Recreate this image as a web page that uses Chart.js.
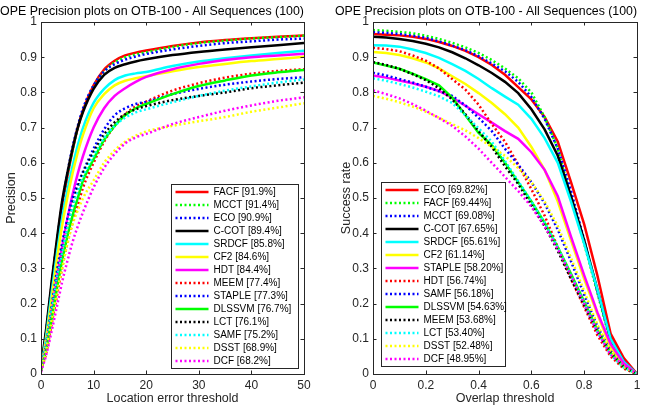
<!DOCTYPE html>
<html>
<head>
<meta charset="utf-8">
<script src="https://cdn.jsdelivr.net/npm/chart.js@4.4.1/dist/chart.umd.min.js"></script>
<style>
    html, body { margin: 0; padding: 0; background: #fff; overflow: hidden; width: 657px; height: 410px; }
    canvas { position: absolute; top: 0; }
    #precisionChart { left: 0; }
    #successChart { left: 335px; }
</style>
</head>
<body>
<canvas id="precisionChart" width="345" height="410"></canvas>
<canvas id="successChart" width="337" height="410"></canvas>

<script>
/* ===============================
   Data
   =============================== */
const titleText = "OPE Precision plots on OTB-100 - All Sequences (100)";

// precision plot (location error threshold)
const precisionX = [0, 1, 2, 3, 4, 5, 6, 7, 8, 10, 12, 14, 16, 18, 20, 25, 30, 35, 40, 45, 50];
const precisionTicksX = [0, 10, 20, 30, 40, 50];
const precisionNames = ["FACF", "MCCT", "ECO", "C-COT", "SRDCF", "CF2", "HDT", "MEEM", "STAPLE", "DLSSVM", "LCT", "SAMF", "DSST", "DCF"];
const precisionScores = [91.9, 91.4, 90.9, 89.4, 85.8, 84.6, 84.4, 77.4, 77.3, 76.7, 76.1, 75.2, 68.9, 68.2];
const precisionValues = [
    [0.01, 0.12, 0.25, 0.37, 0.48, 0.56, 0.635, 0.70, 0.75, 0.82, 0.865, 0.89, 0.905, 0.913, 0.919, 0.932, 0.942, 0.949, 0.954, 0.958, 0.962],
    [0.01, 0.12, 0.25, 0.37, 0.48, 0.56, 0.635, 0.70, 0.75, 0.818, 0.86, 0.885, 0.90, 0.908, 0.914, 0.929, 0.94, 0.947, 0.953, 0.957, 0.961],
    [0.01, 0.12, 0.25, 0.37, 0.48, 0.57, 0.645, 0.705, 0.755, 0.82, 0.86, 0.88, 0.893, 0.902, 0.909, 0.922, 0.932, 0.94, 0.945, 0.95, 0.953],
    [0.02, 0.13, 0.26, 0.38, 0.49, 0.57, 0.64, 0.70, 0.745, 0.81, 0.85, 0.87, 0.88, 0.888, 0.894, 0.906, 0.915, 0.922, 0.928, 0.934, 0.94],
    [0.01, 0.11, 0.23, 0.34, 0.44, 0.52, 0.59, 0.65, 0.70, 0.77, 0.81, 0.835, 0.848, 0.854, 0.858, 0.875, 0.888, 0.897, 0.905, 0.912, 0.918],
    [0.01, 0.10, 0.21, 0.32, 0.42, 0.50, 0.57, 0.63, 0.68, 0.755, 0.795, 0.82, 0.833, 0.84, 0.846, 0.86, 0.872, 0.881, 0.889, 0.895, 0.901],
    [0.01, 0.08, 0.17, 0.27, 0.36, 0.44, 0.51, 0.57, 0.62, 0.70, 0.755, 0.79, 0.812, 0.83, 0.844, 0.866, 0.881, 0.892, 0.90, 0.905, 0.91],
    [0.01, 0.06, 0.14, 0.22, 0.30, 0.37, 0.43, 0.48, 0.53, 0.60, 0.66, 0.705, 0.738, 0.76, 0.774, 0.805, 0.826, 0.842, 0.853, 0.861, 0.866],
    [0.01, 0.09, 0.19, 0.29, 0.37, 0.44, 0.50, 0.54, 0.575, 0.64, 0.695, 0.735, 0.755, 0.767, 0.773, 0.795, 0.81, 0.822, 0.831, 0.838, 0.843],
    [0.01, 0.07, 0.155, 0.24, 0.32, 0.39, 0.45, 0.50, 0.55, 0.61, 0.665, 0.705, 0.735, 0.755, 0.767, 0.795, 0.818, 0.834, 0.848, 0.857, 0.864],
    [0.01, 0.085, 0.18, 0.27, 0.35, 0.42, 0.48, 0.53, 0.57, 0.63, 0.68, 0.715, 0.738, 0.752, 0.761, 0.778, 0.79, 0.80, 0.812, 0.82, 0.828],
    [0.01, 0.09, 0.18, 0.27, 0.345, 0.415, 0.475, 0.52, 0.56, 0.62, 0.67, 0.705, 0.728, 0.743, 0.752, 0.772, 0.79, 0.805, 0.817, 0.828, 0.837],
    [0.01, 0.07, 0.15, 0.23, 0.30, 0.37, 0.425, 0.465, 0.50, 0.55, 0.60, 0.635, 0.66, 0.677, 0.689, 0.705, 0.718, 0.73, 0.745, 0.757, 0.769],
    [0.005, 0.055, 0.12, 0.19, 0.26, 0.32, 0.375, 0.42, 0.46, 0.53, 0.585, 0.625, 0.655, 0.672, 0.682, 0.71, 0.73, 0.748, 0.763, 0.776, 0.786]
];

// success plot (overlap threshold)
const successX = [0, 0.05, 0.1, 0.15, 0.2, 0.25, 0.3, 0.35, 0.4, 0.45, 0.5, 0.55, 0.6, 0.65, 0.7, 0.75, 0.8, 0.85, 0.9, 0.95, 1];
const successTicksX = [0, 0.2, 0.4, 0.6, 0.8, 1];
const successNames = ["ECO", "FACF", "MCCT", "C-COT", "SRDCF", "CF2", "STAPLE", "HDT", "SAMF", "DLSSVM", "MEEM", "LCT", "DSST", "DCF"];
const successScores = [69.82, 69.44, 69.08, 67.65, 65.61, 61.14, 58.20, 56.74, 56.18, 54.63, 53.68, 53.40, 52.48, 48.95];
const successValues = [
    [0.966, 0.964, 0.962, 0.958, 0.952, 0.943, 0.932, 0.918, 0.900, 0.878, 0.850, 0.815, 0.78, 0.73, 0.66, 0.545, 0.425, 0.28, 0.115, 0.045, 0],
    [0.977, 0.975, 0.972, 0.968, 0.961, 0.952, 0.941, 0.928, 0.912, 0.892, 0.868, 0.84, 0.80, 0.73, 0.64, 0.50, 0.37, 0.23, 0.09, 0.03, 0],
    [0.971, 0.969, 0.966, 0.961, 0.955, 0.945, 0.933, 0.92, 0.903, 0.882, 0.86, 0.83, 0.787, 0.725, 0.64, 0.52, 0.38, 0.235, 0.095, 0.03, 0],
    [0.958, 0.956, 0.952, 0.946, 0.938, 0.928, 0.914, 0.897, 0.877, 0.855, 0.83, 0.798, 0.752, 0.695, 0.62, 0.505, 0.38, 0.24, 0.10, 0.035, 0],
    [0.934, 0.933, 0.93, 0.922, 0.912, 0.898, 0.88, 0.861, 0.838, 0.812, 0.788, 0.765, 0.725, 0.67, 0.60, 0.49, 0.37, 0.24, 0.10, 0.035, 0],
    [0.915, 0.912, 0.906, 0.897, 0.885, 0.868, 0.846, 0.824, 0.798, 0.77, 0.738, 0.70, 0.645, 0.58, 0.49, 0.38, 0.27, 0.17, 0.075, 0.025, 0],
    [0.848, 0.842, 0.834, 0.826, 0.816, 0.804, 0.785, 0.762, 0.738, 0.714, 0.69, 0.668, 0.63, 0.58, 0.505, 0.39, 0.28, 0.175, 0.085, 0.03, 0],
    [0.927, 0.923, 0.917, 0.905, 0.89, 0.868, 0.838, 0.808, 0.765, 0.71, 0.66, 0.595, 0.525, 0.45, 0.36, 0.27, 0.19, 0.11, 0.05, 0.015, 0],
    [0.856, 0.848, 0.838, 0.828, 0.816, 0.803, 0.79, 0.763, 0.728, 0.69, 0.64, 0.595, 0.545, 0.485, 0.41, 0.32, 0.225, 0.135, 0.065, 0.02, 0],
    [0.885, 0.876, 0.867, 0.853, 0.838, 0.82, 0.785, 0.735, 0.685, 0.65, 0.60, 0.545, 0.49, 0.43, 0.36, 0.285, 0.205, 0.125, 0.06, 0.02, 0],
    [0.886, 0.878, 0.867, 0.852, 0.835, 0.812, 0.78, 0.738, 0.69, 0.645, 0.59, 0.54, 0.48, 0.42, 0.35, 0.27, 0.195, 0.12, 0.06, 0.02, 0],
    [0.84, 0.833, 0.824, 0.814, 0.802, 0.789, 0.77, 0.735, 0.698, 0.66, 0.605, 0.548, 0.49, 0.43, 0.36, 0.28, 0.2, 0.12, 0.055, 0.018, 0],
    [0.79, 0.782, 0.772, 0.76, 0.745, 0.728, 0.71, 0.692, 0.67, 0.645, 0.62, 0.585, 0.545, 0.49, 0.42, 0.33, 0.235, 0.14, 0.065, 0.02, 0],
    [0.806, 0.795, 0.783, 0.767, 0.748, 0.727, 0.705, 0.675, 0.64, 0.60, 0.56, 0.52, 0.475, 0.42, 0.355, 0.28, 0.2, 0.12, 0.055, 0.025, 0]
];

const yTicks = [0, 0.1, 0.2, 0.3, 0.4, 0.5, 0.6, 0.7, 0.8, 0.9, 1];

// line styles by rank (same in both plots)
const rankColors = ["#ff0000", "#00ff00", "#0000ff", "#000000", "#00ffff", "#ffff00", "#ff00ff",
                    "#ff0000", "#0000ff", "#00ff00", "#000000", "#00ffff", "#ffff00", "#ff00ff"];
const rankDotted = [false, true, true, false, false, false, false, true, true, false, true, true, true, true];

/* ===============================
   Plugins
   =============================== */
const AXIS_COLOR = "#262626";

// box around the plot with inward ticks on all four sides
const matlabBox = {
    id: "matlabBox",
    afterDatasetsDraw(chart) {
        const { ctx, chartArea: a, scales: { x, y } } = chart;
        const len = 3.5;
        ctx.save();
        ctx.strokeStyle = AXIS_COLOR;
        ctx.lineWidth = 1;
        ctx.beginPath();
        x.ticks.forEach(t => {
            const px = Math.round(x.getPixelForValue(t.value)) + 0.5;
            ctx.moveTo(px, a.bottom); ctx.lineTo(px, a.bottom - len);
            ctx.moveTo(px, a.top); ctx.lineTo(px, a.top + len);
        });
        y.ticks.forEach(t => {
            const py = Math.round(y.getPixelForValue(t.value)) + 0.5;
            ctx.moveTo(a.left, py); ctx.lineTo(a.left + len, py);
            ctx.moveTo(a.right, py); ctx.lineTo(a.right - len, py);
        });
        ctx.stroke();
        ctx.strokeRect(Math.round(a.left) + 0.5, Math.round(a.top) + 0.5,
                       Math.round(a.right - a.left), Math.round(a.bottom - a.top));
        ctx.restore();
    }
};

// legend box inside the plot area
const boxLegend = {
    id: "boxLegend",
    afterDraw(chart, args, opts) {
        const { ctx, chartArea: a } = chart;
        const items = chart.data.datasets;
        const rowH = 13;
        const w = opts.width;
        const h = items.length * rowH + 2;
        const left = Math.round(opts.side === "right" ? a.right - opts.inset - w : a.left + opts.inset) + 0.5;
        const top = Math.round(a.bottom - opts.inset - h) + 0.5;

        ctx.save();
        ctx.fillStyle = "#fff";
        ctx.fillRect(left, top, w, h);
        ctx.strokeStyle = AXIS_COLOR;
        ctx.lineWidth = 1;
        ctx.strokeRect(left, top, w, h);

        ctx.font = "10px 'Liberation Sans', Arial, sans-serif";
        ctx.textBaseline = "middle";
        items.forEach((ds, i) => {
            const cy = top + 1 + rowH * i + rowH / 2;
            ctx.beginPath();
            ctx.setLineDash(ds.borderDash || []);
            ctx.strokeStyle = ds.borderColor;
            ctx.lineWidth = ds.borderWidth;
            ctx.moveTo(left + 4, cy);
            ctx.lineTo(left + 37, cy);
            ctx.stroke();
            ctx.setLineDash([]);
            ctx.fillStyle = "#000";
            ctx.fillText(ds.label, left + 42, cy);
        });
        ctx.restore();
    }
};

/* ===============================
   Chart builder
   =============================== */
function buildDatasets(names, scores, values, xs, digits, smooth) {
    return names.map((name, i) => ({
        label: `${name} [${scores[i].toFixed(digits)}%]`,
        data: values[i].map((v, k) => ({ x: xs[k], y: v })),
        borderColor: rankColors[i],
        borderWidth: 2.5,
        borderDash: rankDotted[i] ? [2, 2.5] : [],
        borderCapStyle: "butt",
        pointRadius: 0,
        fill: false,
        cubicInterpolationMode: smooth ? "monotone" : "default",
        tension: 0,
        order: names.length - i
    }));
}

function renderChart(id, cfg) {
    const ctx = document.getElementById(id);
    if (!ctx) return;

    new Chart(ctx, {
        type: "line",
        data: { datasets: buildDatasets(cfg.names, cfg.scores, cfg.values, cfg.xs, cfg.digits, cfg.smooth) },
        plugins: [matlabBox, boxLegend],
        options: {
            responsive: false,
            animation: false,
            layout: { padding: { left: 0, right: cfg.padRight, top: 0, bottom: 0 } },
            plugins: {
                legend: { display: false },
                tooltip: { enabled: false },
                title: {
                    display: true,
                    text: titleText,
                    color: "#000",
                    font: { size: 12.5, weight: "normal" },
                    padding: { top: 4.5, bottom: 2.5 }
                },
                boxLegend: cfg.legend
            },
            scales: {
                x: {
                    type: "linear",
                    min: 0,
                    max: cfg.xMax,
                    grid: { display: false, drawTicks: false },
                    border: { display: false },
                    afterBuildTicks: s => { s.ticks = cfg.xTicks.map(v => ({ value: v })); },
                    afterFit: s => { s.height = 36; },
                    ticks: { padding: 4, maxRotation: 0, font: { size: 12 }, callback: v => String(v) },
                    title: { display: true, text: cfg.xTitle, font: { size: 12.5 }, padding: { top: 0, bottom: 3.5 } }
                },
                y: {
                    type: "linear",
                    min: 0,
                    max: 1,
                    grid: { display: false, drawTicks: false },
                    border: { display: false },
                    afterBuildTicks: s => { s.ticks = yTicks.map(v => ({ value: v })); },
                    afterFit: s => { s.width = cfg.yWidth; },
                    ticks: { padding: 4, font: { size: 12 }, callback: v => String(v) },
                    title: { display: true, text: cfg.yTitle, font: { size: 12.5 }, padding: { top: 4.5, bottom: 0 } }
                }
            }
        }
    });
}

Chart.defaults.font.family = "'Liberation Sans', Arial, Helvetica, sans-serif";
Chart.defaults.color = AXIS_COLOR;

renderChart("precisionChart", {
    names: precisionNames, scores: precisionScores, values: precisionValues, xs: precisionX,
    digits: 1, smooth: true, xMax: 50, xTicks: precisionTicksX,
    xTitle: "Location error threshold", yTitle: "Precision",
    yWidth: 41, padRight: 41,
    legend: { side: "right", inset: 6, width: 127 }
});

renderChart("successChart", {
    names: successNames, scores: successScores, values: successValues, xs: successX,
    digits: 2, smooth: false, xMax: 1, xTicks: successTicksX,
    xTitle: "Overlap threshold", yTitle: "Success rate",
    yWidth: 38, padRight: 35,
    legend: { side: "left", inset: 8, width: 124 }
});
</script>
</body>
</html>
